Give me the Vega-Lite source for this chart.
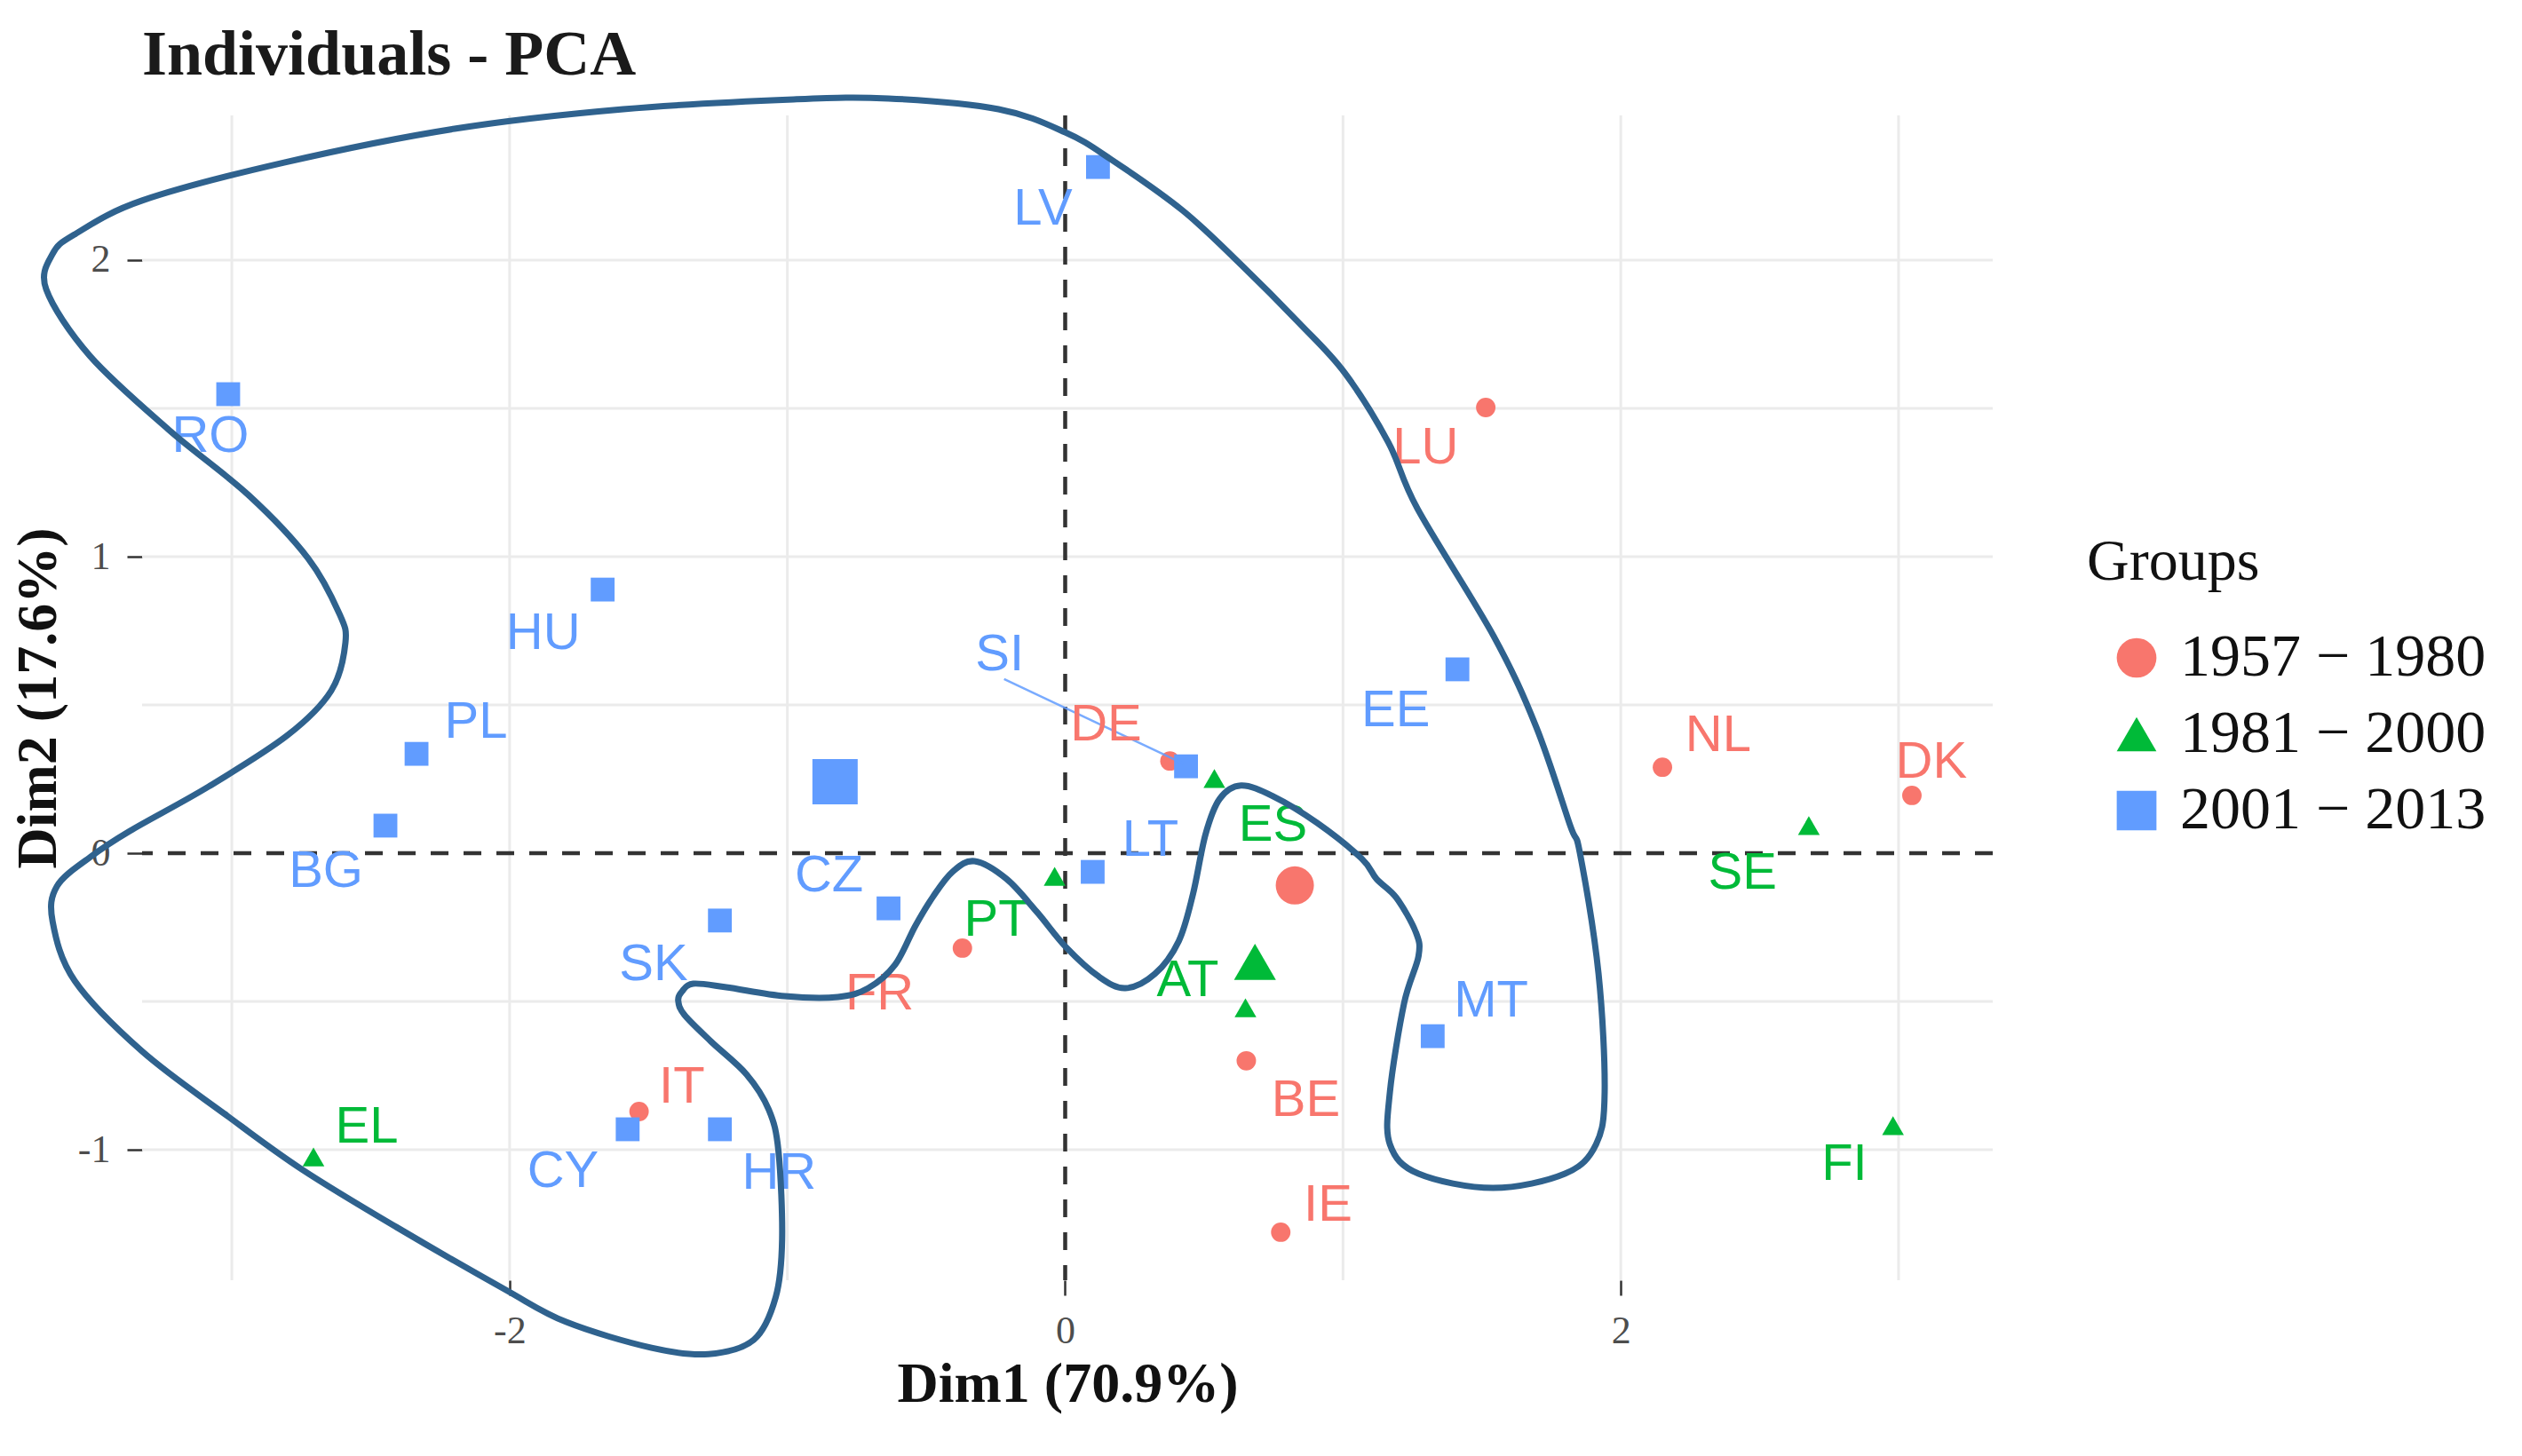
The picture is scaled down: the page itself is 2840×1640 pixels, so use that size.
{
  "$schema": "https://vega.github.io/schema/vega-lite/v6.json",
  "width": 2084,
  "height": 1312,
  "autosize": {"type": "none"},
  "padding": {"left": 160, "top": 130, "right": 596, "bottom": 198},
  "background": "white",
  "title": {"text": "Individuals - PCA", "anchor": "start", "frame": "group", "font": "Liberation Serif", "fontSize": 72, "fontWeight": "bold", "color": "#1a1a1a", "offset": -3},
  "config": {
    "view": {"stroke": null},
    "axis": {"grid": false, "domain": false, "tickColor": "#333333", "tickWidth": 2.5, "tickSize": 17, "labelFont": "Liberation Serif", "labelFontSize": 44, "labelColor": "#4D4D4D", "titleFont": "Liberation Serif", "titleFontSize": 64, "titleFontWeight": "bold", "titleColor": "#111111"},
    "axisX": {"labelPadding": 18, "titlePadding": 6},
    "axisY": {"labelPadding": 19, "titlePadding": 12}
  },
  "datasets": {
    "gx": [{"v": -3}, {"v": -2}, {"v": -1}, {"v": 1}, {"v": 2}, {"v": 3}],
    "gy": [{"v": -1}, {"v": -0.5}, {"v": 0.5}, {"v": 1}, {"v": 1.5}, {"v": 2}],
    "zero": [{"v": 0}],
    "pts": [
      {"label": "BE", "group": "1957 − 1980", "x": 0.652, "y": -0.70, "lx": 0.866, "ly": -0.835},
      {"label": "DE", "group": "1957 − 1980", "x": 0.377, "y": 0.311, "lx": 0.147, "ly": 0.431},
      {"label": "FR", "group": "1957 − 1980", "x": -0.37, "y": -0.32, "lx": -0.668, "ly": -0.476},
      {"label": "IT", "group": "1957 − 1980", "x": -1.534, "y": -0.871, "lx": -1.38, "ly": -0.79},
      {"label": "LU", "group": "1957 − 1980", "x": 1.514, "y": 1.503, "lx": 1.297, "ly": 1.365},
      {"label": "NL", "group": "1957 − 1980", "x": 2.15, "y": 0.29, "lx": 2.351, "ly": 0.395},
      {"label": "DK", "group": "1957 − 1980", "x": 3.048, "y": 0.195, "lx": 3.118, "ly": 0.305},
      {"label": "IE", "group": "1957 − 1980", "x": 0.776, "y": -1.278, "lx": 0.946, "ly": -1.189},
      {"label": "EL", "group": "1981 − 2000", "x": -2.706, "y": -1.024, "lx": -2.514, "ly": -0.925},
      {"label": "ES", "group": "1981 − 2000", "x": 0.537, "y": 0.252, "lx": 0.748, "ly": 0.093},
      {"label": "PT", "group": "1981 − 2000", "x": -0.038, "y": -0.078, "lx": -0.246, "ly": -0.228},
      {"label": "AT", "group": "1981 − 2000", "x": 0.649, "y": -0.521, "lx": 0.441, "ly": -0.431},
      {"label": "SE", "group": "1981 − 2000", "x": 2.677, "y": 0.093, "lx": 2.438, "ly": -0.069},
      {"label": "FI", "group": "1981 − 2000", "x": 2.98, "y": -0.919, "lx": 2.805, "ly": -1.051},
      {"label": "LV", "group": "2001 − 2013", "x": 0.118, "y": 2.314, "lx": -0.08, "ly": 2.17},
      {"label": "RO", "group": "2001 − 2013", "x": -3.013, "y": 1.548, "lx": -3.077, "ly": 1.404},
      {"label": "HU", "group": "2001 − 2013", "x": -1.665, "y": 0.889, "lx": -1.879, "ly": 0.74},
      {"label": "PL", "group": "2001 − 2013", "x": -2.335, "y": 0.335, "lx": -2.121, "ly": 0.44},
      {"label": "BG", "group": "2001 − 2013", "x": -2.447, "y": 0.093, "lx": -2.661, "ly": -0.063},
      {"label": "CZ", "group": "2001 − 2013", "x": -0.636, "y": -0.186, "lx": -0.85, "ly": -0.078},
      {"label": "SK", "group": "2001 − 2013", "x": -1.243, "y": -0.227, "lx": -1.482, "ly": -0.377},
      {"label": "LT", "group": "2001 − 2013", "x": 0.099, "y": -0.063, "lx": 0.307, "ly": 0.042},
      {"label": "SI", "group": "2001 − 2013", "x": 0.435, "y": 0.293, "lx": -0.236, "ly": 0.667},
      {"label": "MT", "group": "2001 − 2013", "x": 1.323, "y": -0.617, "lx": 1.533, "ly": -0.50},
      {"label": "EE", "group": "2001 − 2013", "x": 1.412, "y": 0.62, "lx": 1.19, "ly": 0.479},
      {"label": "CY", "group": "2001 − 2013", "x": -1.575, "y": -0.931, "lx": -1.808, "ly": -1.075},
      {"label": "HR", "group": "2001 − 2013", "x": -1.243, "y": -0.931, "lx": -1.03, "ly": -1.08}
    ],
    "seg": [{"x1": -0.22, "y1": 0.587, "x2": 0.425, "y2": 0.302}],
    "contour": [
      {"i": 1, "cx": -3.668, "cy": 1.901}, {"i": 2, "cx": -3.645, "cy": 2.021}, {"i": 3, "cx": -3.565, "cy": 2.087},
      {"i": 4, "cx": -3.323, "cy": 2.201}, {"i": 5, "cx": -2.812, "cy": 2.329}, {"i": 6, "cx": -2.198, "cy": 2.443},
      {"i": 7, "cx": -1.591, "cy": 2.509}, {"i": 8, "cx": -0.978, "cy": 2.542}, {"i": 9, "cx": -0.636, "cy": 2.545},
      {"i": 10, "cx": -0.24, "cy": 2.509}, {"i": 11, "cx": 0.0, "cy": 2.431}, {"i": 12, "cx": 0.163, "cy": 2.341},
      {"i": 13, "cx": 0.422, "cy": 2.168}, {"i": 14, "cx": 0.636, "cy": 1.982}, {"i": 15, "cx": 0.843, "cy": 1.787},
      {"i": 16, "cx": 1.006, "cy": 1.62}, {"i": 17, "cx": 1.163, "cy": 1.386}, {"i": 18, "cx": 1.268, "cy": 1.162},
      {"i": 19, "cx": 1.543, "cy": 0.731}, {"i": 20, "cx": 1.696, "cy": 0.425}, {"i": 21, "cx": 1.818, "cy": 0.093},
      {"i": 22, "cx": 1.853, "cy": 0.0}, {"i": 23, "cx": 1.92, "cy": -0.407}, {"i": 24, "cx": 1.942, "cy": -0.805},
      {"i": 25, "cx": 1.911, "cy": -0.982}, {"i": 26, "cx": 1.799, "cy": -1.081}, {"i": 27, "cx": 1.54, "cy": -1.129},
      {"i": 28, "cx": 1.272, "cy": -1.081}, {"i": 29, "cx": 1.169, "cy": -0.982}, {"i": 30, "cx": 1.169, "cy": -0.805},
      {"i": 31, "cx": 1.22, "cy": -0.506}, {"i": 32, "cx": 1.272, "cy": -0.347}, {"i": 33, "cx": 1.262, "cy": -0.266},
      {"i": 34, "cx": 1.192, "cy": -0.15}, {"i": 35, "cx": 1.121, "cy": -0.087}, {"i": 36, "cx": 1.067, "cy": -0.018},
      {"i": 37, "cx": 0.907, "cy": 0.102}, {"i": 38, "cx": 0.748, "cy": 0.192}, {"i": 39, "cx": 0.633, "cy": 0.228},
      {"i": 40, "cx": 0.556, "cy": 0.183}, {"i": 41, "cx": 0.505, "cy": 0.063}, {"i": 42, "cx": 0.46, "cy": -0.138},
      {"i": 43, "cx": 0.409, "cy": -0.296}, {"i": 44, "cx": 0.323, "cy": -0.407}, {"i": 45, "cx": 0.217, "cy": -0.455},
      {"i": 46, "cx": 0.121, "cy": -0.416}, {"i": 47, "cx": 0.003, "cy": -0.317}, {"i": 48, "cx": -0.102, "cy": -0.198},
      {"i": 49, "cx": -0.211, "cy": -0.087}, {"i": 50, "cx": -0.326, "cy": -0.027}, {"i": 51, "cx": -0.406, "cy": -0.063},
      {"i": 52, "cx": -0.476, "cy": -0.147}, {"i": 53, "cx": -0.54, "cy": -0.246}, {"i": 54, "cx": -0.613, "cy": -0.377},
      {"i": 55, "cx": -0.709, "cy": -0.455}, {"i": 56, "cx": -0.818, "cy": -0.485}, {"i": 57, "cx": -1.01, "cy": -0.482},
      {"i": 58, "cx": -1.22, "cy": -0.452}, {"i": 59, "cx": -1.339, "cy": -0.44}, {"i": 60, "cx": -1.38, "cy": -0.467},
      {"i": 61, "cx": -1.393, "cy": -0.497}, {"i": 62, "cx": -1.371, "cy": -0.545}, {"i": 63, "cx": -1.275, "cy": -0.635},
      {"i": 64, "cx": -1.147, "cy": -0.746}, {"i": 65, "cx": -1.067, "cy": -0.865}, {"i": 66, "cx": -1.032, "cy": -1.006},
      {"i": 67, "cx": -1.019, "cy": -1.302}, {"i": 68, "cx": -1.042, "cy": -1.497}, {"i": 69, "cx": -1.121, "cy": -1.641},
      {"i": 70, "cx": -1.284, "cy": -1.689}, {"i": 71, "cx": -1.489, "cy": -1.668}, {"i": 72, "cx": -1.796, "cy": -1.581},
      {"i": 73, "cx": -2.019, "cy": -1.47}, {"i": 74, "cx": -2.409, "cy": -1.26}, {"i": 75, "cx": -2.748, "cy": -1.066},
      {"i": 76, "cx": -3.016, "cy": -0.886}, {"i": 77, "cx": -3.323, "cy": -0.668}, {"i": 78, "cx": -3.565, "cy": -0.431},
      {"i": 79, "cx": -3.645, "cy": -0.231}, {"i": 80, "cx": -3.629, "cy": -0.111}, {"i": 81, "cx": -3.508, "cy": -0.012},
      {"i": 82, "cx": -3.367, "cy": 0.075}, {"i": 83, "cx": -3.083, "cy": 0.225}, {"i": 84, "cx": -2.799, "cy": 0.398},
      {"i": 85, "cx": -2.642, "cy": 0.548}, {"i": 86, "cx": -2.591, "cy": 0.71}, {"i": 87, "cx": -2.613, "cy": 0.808},
      {"i": 88, "cx": -2.725, "cy": 0.994}, {"i": 89, "cx": -2.939, "cy": 1.207}, {"i": 90, "cx": -3.227, "cy": 1.428},
      {"i": 91, "cx": -3.511, "cy": 1.677}
    ]
  },
  "resolve": {"scale": {"size": "independent"}},
  "layer": [
    {
      "data": {"name": "gx"},
      "mark": {"type": "rule", "color": "#EBEBEB", "strokeWidth": 3},
      "encoding": {
        "x": {"field": "v", "type": "quantitative", "title": "Dim1 (70.9%)",
              "scale": {"domain": [-3.323, 3.339], "nice": false, "zero": false},
              "axis": {"values": [-2, 0, 2], "format": "d", "labelExpr": "replace(datum.label, '−', '-')"}}
      }
    },
    {
      "data": {"name": "gy"},
      "mark": {"type": "rule", "color": "#EBEBEB", "strokeWidth": 3},
      "encoding": {
        "y": {"field": "v", "type": "quantitative", "title": "Dim2 (17.6%)",
              "scale": {"domain": [-1.44, 2.488], "nice": false, "zero": false},
              "axis": {"values": [-1, 0, 1, 2], "format": "d", "labelExpr": "replace(datum.label, '−', '-')"}}
      }
    },
    {
      "data": {"name": "zero"},
      "mark": {"type": "rule", "color": "#333333", "strokeWidth": 4.5, "strokeDash": [20, 17]},
      "encoding": {"x": {"field": "v", "type": "quantitative", "title": "Dim1 (70.9%)"}}
    },
    {
      "data": {"name": "zero"},
      "mark": {"type": "rule", "color": "#333333", "strokeWidth": 4.5, "strokeDash": [20, 17]},
      "encoding": {"y": {"field": "v", "type": "quantitative", "title": "Dim2 (17.6%)"}}
    },
    {
      "data": {"name": "pts"},
      "mark": {"type": "point", "filled": true, "opacity": 1},
      "encoding": {
        "x": {"field": "x", "type": "quantitative", "title": "Dim1 (70.9%)"},
        "y": {"field": "y", "type": "quantitative", "title": "Dim2 (17.6%)"},
        "color": {"field": "group", "type": "nominal",
                  "scale": {"domain": ["1957 − 1980", "1981 − 2000", "2001 − 2013"], "range": ["#F8766D", "#00BA38", "#619CFF"]},
                  "legend": {"title": "Groups", "orient": "none", "legendX": 2190, "legendY": 471, "padding": 0,
                             "titleFont": "Liberation Serif", "titleFontSize": 66, "titleFontWeight": "normal", "titleColor": "#111111", "titlePadding": 40, "titleLimit": 800,
                             "labelFont": "Liberation Serif", "labelFontSize": 68, "labelColor": "#111111", "labelOffset": 15, "labelLimit": 800,
                             "symbolSize": 2000, "symbolOffset": 22, "symbolStrokeWidth": 0, "rowPadding": 18}},
        "shape": {"field": "group", "type": "nominal",
                  "scale": {"domain": ["1957 − 1980", "1981 − 2000", "2001 − 2013"], "range": ["circle", "triangle-up", "square"]},
                  "legend": {"title": "Groups", "orient": "none", "legendX": 2190, "legendY": 471, "padding": 0,
                             "titleFont": "Liberation Serif", "titleFontSize": 66, "titleFontWeight": "normal", "titleColor": "#111111", "titlePadding": 40, "titleLimit": 800,
                             "labelFont": "Liberation Serif", "labelFontSize": 68, "labelColor": "#111111", "labelOffset": 15, "labelLimit": 800,
                             "symbolSize": 2000, "symbolOffset": 22, "symbolStrokeWidth": 0, "rowPadding": 18}},
        "size": {"field": "group", "type": "nominal", "legend": null,
                 "scale": {"domain": ["1957 − 1980", "1981 − 2000", "2001 − 2013"], "range": [480, 720, 430]}}
      }
    },
    {
      "data": {"name": "pts"},
      "mark": {"type": "point", "filled": true, "opacity": 1},
      "encoding": {
        "x": {"aggregate": "mean", "field": "x", "type": "quantitative", "title": "Dim1 (70.9%)"},
        "y": {"aggregate": "mean", "field": "y", "type": "quantitative", "title": "Dim2 (17.6%)"},
        "color": {"field": "group", "type": "nominal"},
        "shape": {"field": "group", "type": "nominal"},
        "size": {"field": "group", "type": "nominal", "legend": null,
                 "scale": {"domain": ["1957 − 1980", "1981 − 2000", "2001 − 2013"], "range": [1850, 2600, 2300]}}
      }
    },
    {
      "data": {"name": "seg"},
      "mark": {"type": "rule", "color": "#619CFF", "strokeWidth": 2.5, "opacity": 0.85},
      "encoding": {
        "x": {"field": "x1", "type": "quantitative", "title": "Dim1 (70.9%)"},
        "y": {"field": "y1", "type": "quantitative", "title": "Dim2 (17.6%)"},
        "x2": {"field": "x2"},
        "y2": {"field": "y2"}
      }
    },
    {
      "data": {"name": "pts"},
      "mark": {"type": "text", "font": "Liberation Sans", "fontSize": 58, "align": "center", "baseline": "middle"},
      "encoding": {
        "x": {"field": "lx", "type": "quantitative", "title": "Dim1 (70.9%)"},
        "y": {"field": "ly", "type": "quantitative", "title": "Dim2 (17.6%)"},
        "text": {"field": "label"},
        "color": {"field": "group", "type": "nominal"}
      }
    },
    {
      "data": {"name": "contour"},
      "mark": {"type": "line", "color": "#2F628E", "strokeWidth": 7, "interpolate": "cardinal-closed", "clip": false},
      "encoding": {
        "x": {"field": "cx", "type": "quantitative", "title": "Dim1 (70.9%)"},
        "y": {"field": "cy", "type": "quantitative", "title": "Dim2 (17.6%)"},
        "order": {"field": "i", "type": "quantitative"}
      }
    }
  ]
}
